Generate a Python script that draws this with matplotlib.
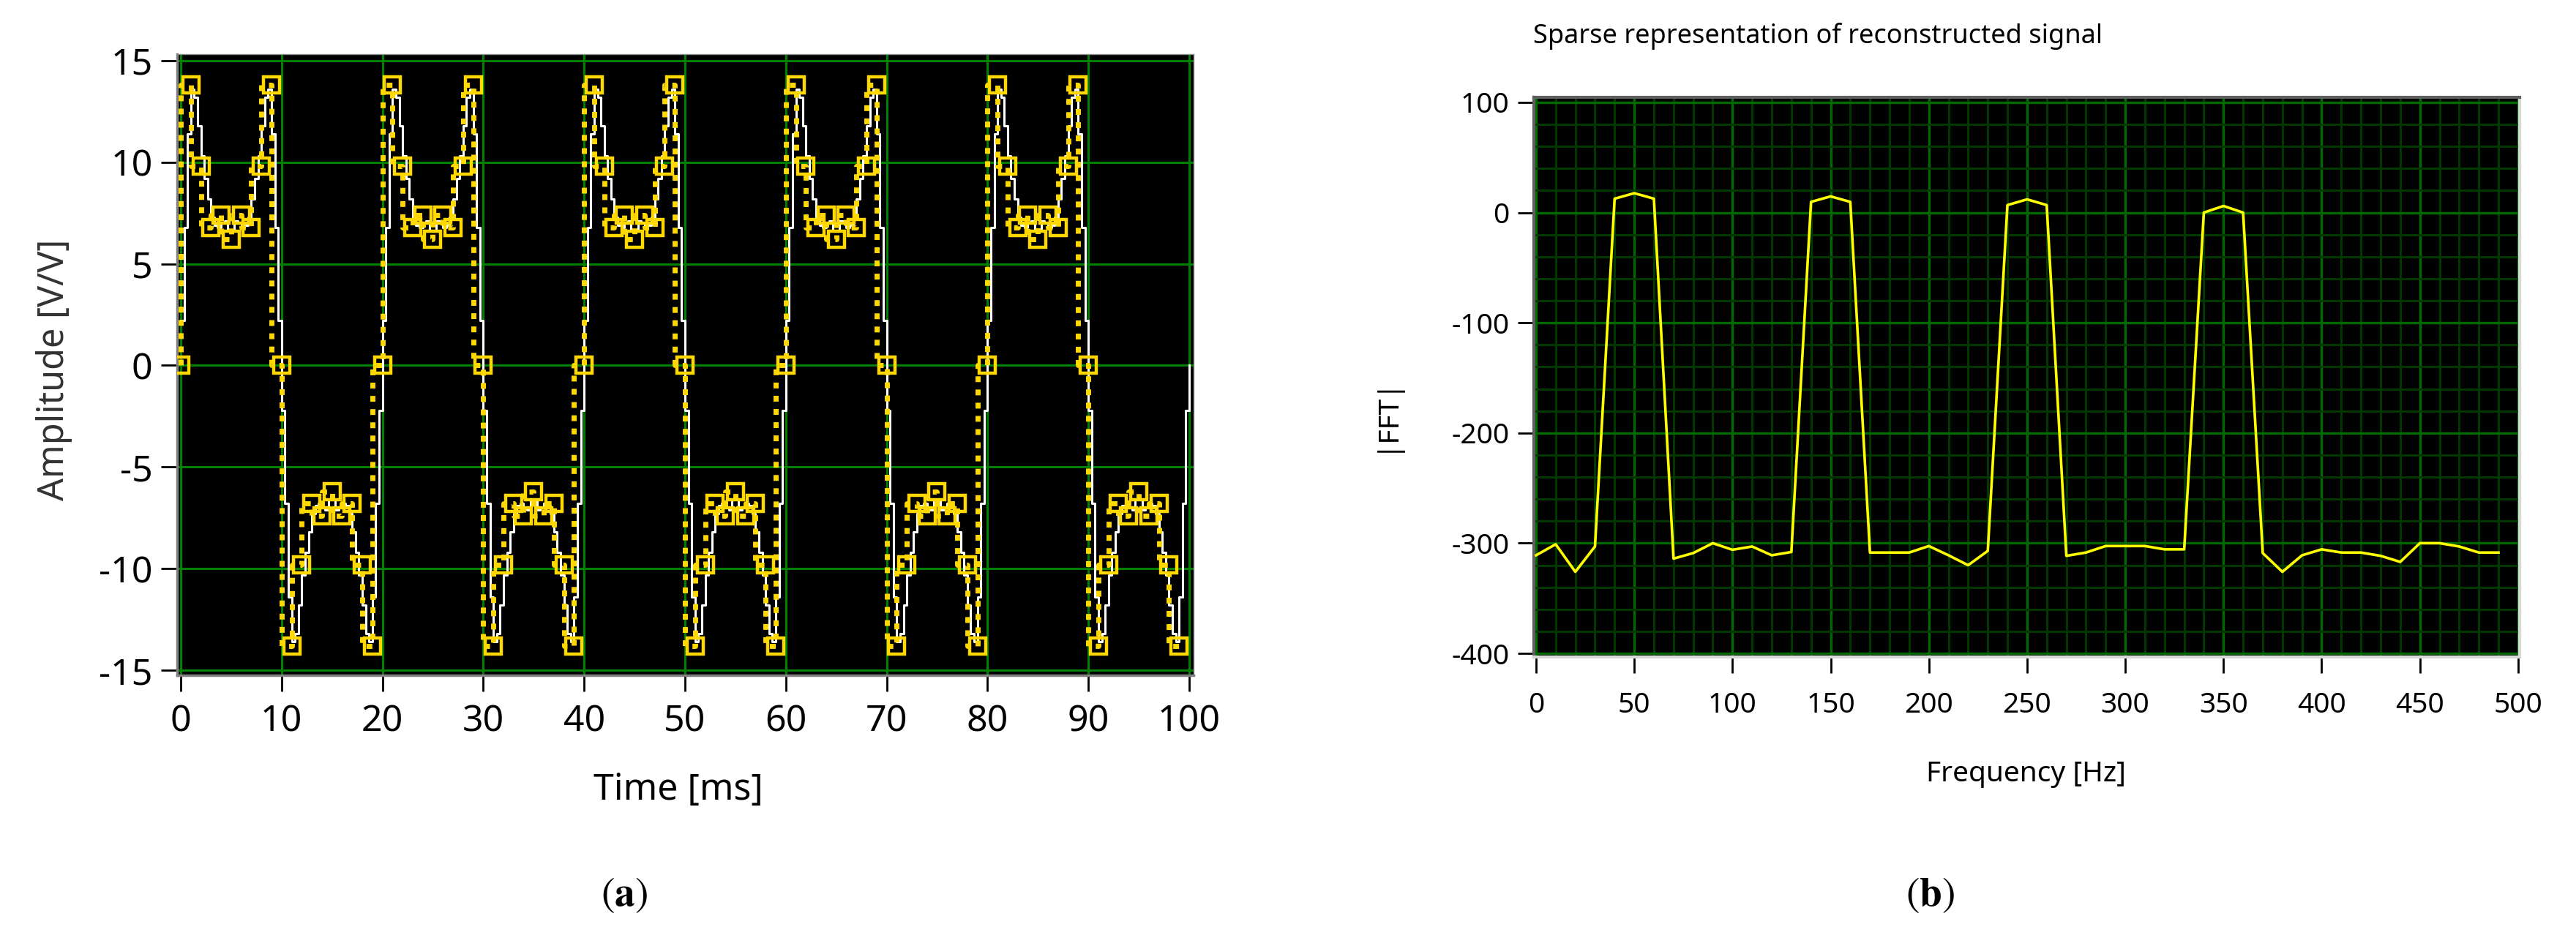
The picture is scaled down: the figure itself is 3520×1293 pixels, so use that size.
import matplotlib
matplotlib.use("Agg")
import matplotlib.pyplot as plt
import numpy as np
from matplotlib.ticker import MultipleLocator

plt.rcParams['font.family'] = ['Noto Sans', 'DejaVu Sans']
plt.rcParams['axes.unicode_minus'] = False
plt.rcParams['mathtext.fontset'] = 'stix'

recon_half = [0, 13.8, 9.8, 6.8, 7.4, 6.2, 7.4, 6.8, 9.8, 13.8]          # 1 ms samples
orig_half = [2.2, 6.8, 11.4, 13.6, 13.2, 11.8, 10.3, 9.2, 8.2, 7.3,
             6.9, 6.8, 7.0, 7.1, 6.6, 6.6, 7.1, 7.0, 6.8, 6.9,
             7.3, 8.2, 9.2, 10.3, 11.8, 13.2, 13.6, 11.4, 6.8, 2.2]     # 1/3 ms samples
n_half_periods = 10
time_ticks = list(range(0, 101, 10))
amp_ticks = list(range(-15, 16, 5))

# (b) |FFT| every 10 Hz, 0..490 Hz
freq_hz = list(range(0, 500, 10))
fft_mag = [-311, -301, -326, -303, 12.6, 17.6, 12.6, -314, -309, -300,
           -306, -303, -311, -308, 9.7, 14.7, 9.7, -308.5, -308.5, -308.5,
           -302.6, -311, -320, -307, 6.8, 12.0, 6.8, -311.5, -308.5, -302.6,
           -302.6, -302.6, -305.6, -305.6, 0.0, 6.0, 0.0, -309, -326, -311,
           -305.6, -308.5, -308.5, -311.5, -317, -300, -300, -303, -308.5, -308.5]
freq_ticks = list(range(0, 501, 50))
mag_ticks = list(range(-400, 101, 100))

recon = []
orig = []
for p in range(n_half_periods):
    s = 1 if p % 2 == 0 else -1
    recon += [s * v for v in recon_half]
    orig += [s * v for v in orig_half]
orig.append(0.0)
t_recon = np.arange(len(recon))
t_orig = np.arange(len(orig)) / 3.0

W, H = 3520, 1293
fig = plt.figure(figsize=(W / 100, H / 100), dpi=100)

# ---- left panel
ax1 = fig.add_axes([242 / W, 1 - 923 / H, (1631 - 242) / W, (923 - 74) / H])
ax1.set_facecolor('black')
ax1.plot(t_orig, orig, drawstyle='steps-post', color='white', lw=2.2, zorder=2)
ax1.plot(t_recon, recon, drawstyle='steps-pre', color='#ffd800', lw=5,
         linestyle=(0, (1.15, 1.45)), marker='s', ms=16, mfc='none',
         mec='#ffd800', mew=3.2, zorder=3)
ax1.set_xlim(-0.36, 100.44)
ax1.set_ylim(-15.25, 15.32)
ax1.set_xticks(time_ticks)
ax1.set_yticks(amp_ticks)
ax1.grid(True, color='#008000', lw=2.2)
ax1.set_axisbelow(True)
for side in ['left', 'bottom']:
    ax1.spines[side].set_color('#808080')
    ax1.spines[side].set_linewidth(2.5)
for side in ['top', 'right']:
    ax1.spines[side].set_color('#909090')
    ax1.spines[side].set_linewidth(1)
ax1.tick_params(length=16, width=2, color='black', labelsize=36, pad=8)
ax1.tick_params(axis='x', pad=12)

# ---- right panel
ax2 = fig.add_axes([2096 / W, 1 - 898 / H, (3443 - 2096) / W, (898 - 133) / H])
ax2.set_facecolor('black')
ax2.plot(freq_hz, fft_mag, color='#ffff00', lw=2.6, zorder=3)
ax2.set_xlim(-1.1, 500.8)
ax2.set_ylim(-403.3, 104.6)
ax2.set_xticks(freq_ticks)
ax2.set_yticks(mag_ticks)
ax2.xaxis.set_minor_locator(MultipleLocator(10))
ax2.yaxis.set_minor_locator(MultipleLocator(20))
ax2.grid(True, which='minor', color='#003800', lw=2.2)
ax2.grid(True, which='major', color='#006a00', lw=2.4)
ax2.set_axisbelow(True)
for side in ['left', 'top']:
    ax2.spines[side].set_color('#5f5f5f')
    ax2.spines[side].set_linewidth(3)
for side in ['right', 'bottom']:
    ax2.spines[side].set_color('#d8d8d8')
    ax2.spines[side].set_linewidth(3)
ax2.tick_params(which='major', length=16, width=2, color='black', labelsize=28, pad=8)
ax2.tick_params(axis='x', pad=18)
ax2.tick_params(which='minor', length=0)

# ---- labels
fig.text(74 / W, 1 - 505 / H, 'Amplitude [V/V]', rotation=90, ha='center',
         va='center', fontsize=35, color='#333333')
fig.text(927 / W, 1 - 1080 / H, 'Time [ms]', ha='center', va='center', fontsize=36)
fig.text(2095 / W, 1 - 49 / H, 'Sparse representation of reconstructed signal',
         ha='left', va='center', fontsize=26)
fig.text(1893 / W, 1 - 566 / H, '|FFT|', rotation=90, ha='center', va='center',
         fontsize=28)
fig.text(2768 / W, 1 - 1058 / H, 'Frequency [Hz]', ha='center', va='center', fontsize=28)
fig.text(853 / W, 1 - 1224 / H, r'$(\mathbf{a})$', ha='center', va='center', fontsize=40)
fig.text(2638 / W, 1 - 1224 / H, r'$(\mathbf{b})$', ha='center', va='center', fontsize=40)

fig.savefig('out.png', dpi=100, facecolor='white')
